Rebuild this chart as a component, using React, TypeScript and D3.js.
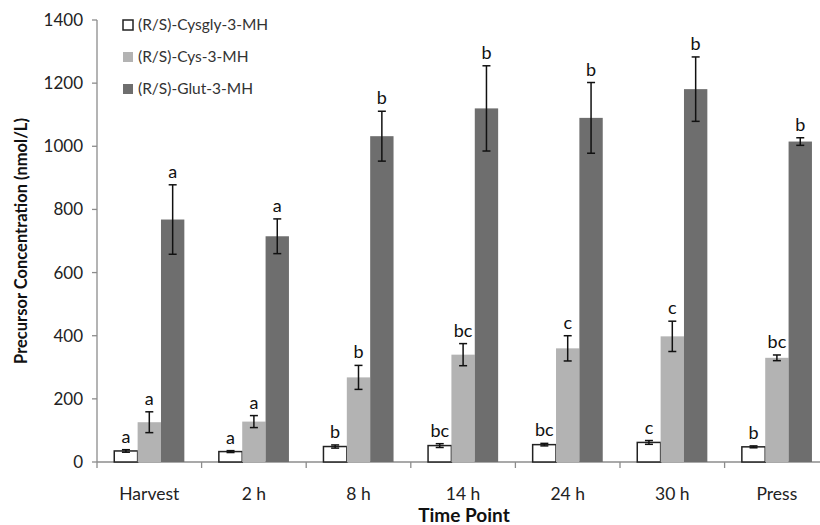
import React from "react";
import * as d3 from "d3";

const categories = ["Harvest", "2 h", "8 h", "14 h", "24 h", "30 h", "Press"];
const seriesNames = ["(R/S)-Cysgly-3-MH", "(R/S)-Cys-3-MH", "(R/S)-Glut-3-MH"];
const cysglyVals = [35, 33, 49, 52, 55, 62, 48];
const cysglyErr = [4, 3, 5, 6, 4, 6, 3];
const cysVals = [126, 128, 268, 340, 360, 398, 330];
const cysErr = [33, 19, 38, 35, 40, 48, 9];
const glutVals = [768, 715, 1032, 1120, 1090, 1181, 1015];
const glutErr = [110, 55, 79, 135, 112, 102, 12];
const cysglyLetters = ["a", "a", "b", "bc", "bc", "c", "b"];
const cysLetters = ["a", "a", "b", "bc", "c", "c", "bc"];
const glutLetters = ["a", "a", "b", "b", "b", "b", "b"];
const yTicks = [0, 200, 400, 600, 800, 1000, 1200, 1400];

const fills = ["#ffffff", "#b3b3b3", "#6e6e6e"];
const strokes = ["#222222", "none", "none"];
const FONT = "Lato, 'Open Sans', sans-serif";

export default function App() {
  const W = 820, H = 525;
  const left = 97, top = 20, bottom = 462;
  const bandW = 104.6;
  const x = d3.scaleBand<string>().domain(categories).range([left, left + bandW * 7]).padding(0);
  const y = d3.scaleLinear().domain([0, 1400]).range([bottom, top]);
  const groupW = x.bandwidth() * 0.67;
  const barW = groupW / 3;
  const vals = [cysglyVals, cysVals, glutVals];
  const errs = [cysglyErr, cysErr, glutErr];
  const letters = [cysglyLetters, cysLetters, glutLetters];

  return (
    <svg width={W} height={H} style={{ position: "absolute", left: 0, top: 0, background: "#fff" }} fontFamily={FONT}>
      {/* y axis */}
      <line x1={left} x2={left} y1={y(1400)} y2={y(0)} stroke="#8c8c8c" strokeWidth={1.3} />
      {yTicks.map((t) => (
        <g key={t}>
          <line x1={left - 5} x2={left} y1={y(t)} y2={y(t)} stroke="#8c8c8c" strokeWidth={1.3} />
          <text x={left - 14} y={y(t)} dy="0.35em" textAnchor="end" fontSize={17} fill="#222">{t}</text>
        </g>
      ))}
      {/* x axis */}
      <line x1={left} x2={left + bandW * 7} y1={bottom} y2={bottom} stroke="#8c8c8c" strokeWidth={1.3} />
      {categories.map((c) => (
        <g key={c}>
          <line x1={x(c) as number} x2={x(c) as number} y1={bottom} y2={bottom + 6} stroke="#8c8c8c" strokeWidth={1.3} />
          <text x={(x(c) as number) + x.bandwidth() / 2} y={bottom + 38} textAnchor="middle" fontSize={17.5} fill="#222">{c}</text>
        </g>
      ))}
      <line x1={left + bandW * 7} x2={left + bandW * 7} y1={bottom} y2={bottom + 6} stroke="#8c8c8c" strokeWidth={1.3} />
      {/* bars */}
      {categories.map((c, i) => {
        const gx = (x(c) as number) + (x.bandwidth() - groupW) / 2;
        return (
          <g key={c}>
            {vals.map((sv, s) => {
              const bx = gx + s * barW;
              const v = sv[i];
              const e = errs[s][i];
              const cx = bx + barW / 2;
              return (
                <g key={s}>
                  <rect x={bx} y={y(v)} width={barW} height={y(0) - y(v)} fill={fills[s]} stroke={strokes[s]} strokeWidth={1.5} />
                  <line x1={cx} x2={cx} y1={y(v + e)} y2={y(v - e)} stroke="#111" strokeWidth={1.5} />
                  <line x1={cx - 4} x2={cx + 4} y1={y(v + e)} y2={y(v + e)} stroke="#111" strokeWidth={1.5} />
                  <line x1={cx - 4} x2={cx + 4} y1={y(v - e)} y2={y(v - e)} stroke="#111" strokeWidth={1.5} />
                  <text x={cx} y={y(v + e) - 7} textAnchor="middle" fontSize={18} fill="#111">{letters[s][i]}</text>
                </g>
              );
            })}
          </g>
        );
      })}
      {/* legend */}
      {seriesNames.map((n, s) => {
        const ly = 25 + s * 32;
        return (
          <g key={n}>
            <rect x={123} y={ly - 5} width={10} height={10} fill={fills[s]} stroke={s === 0 ? "#222" : "none"} strokeWidth={1.5} />
            <text x={138} y={ly} dy="0.35em" fontSize={15.5} fill="#333">{n}</text>
          </g>
        );
      })}
      {/* axis titles */}
      <text transform={`translate(27, ${(top + bottom) / 2}) rotate(-90)`} textAnchor="middle" fontSize={16.5} fontWeight="bold" fill="#111">
        Precursor Concentration (nmol/L)
      </text>
      <text x={464} y={522} textAnchor="middle" fontSize={19} fontWeight="bold" fill="#111">Time Point</text>
    </svg>
  );
}
